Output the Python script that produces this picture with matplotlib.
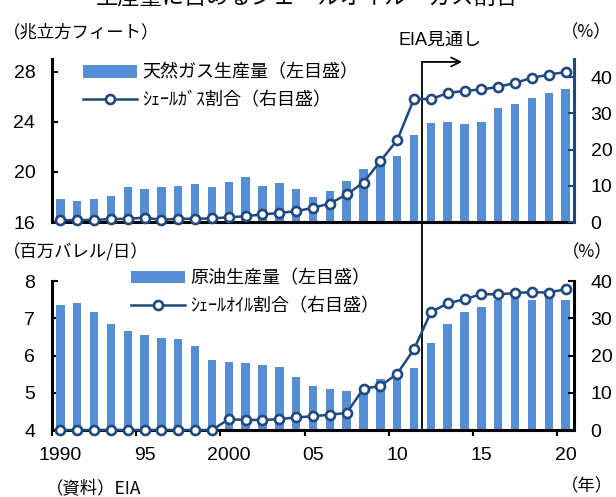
import matplotlib
matplotlib.use("Agg")
import matplotlib.pyplot as plt
from matplotlib import font_manager

years = list(range(1990, 2021))
year_labels = ["1990", "95", "2000", "05", "10", "15", "20"]

# natural gas production (tcf) and shale gas share (%)
gas_prod = [17.8, 17.7, 17.8, 18.1, 18.8, 18.6, 18.8, 18.9, 19.0, 18.8,
            19.2, 19.6, 18.9, 19.1, 18.6, 18.0, 18.5, 19.3, 20.2, 20.6,
            21.3, 22.9, 23.9, 24.0, 23.8, 24.0, 25.1, 25.4, 25.9, 26.3, 26.6]
gas_share = [0.5, 0.5, 0.6, 0.8, 0.9, 1.2, 0.6, 0.9, 0.9, 1.0,
             1.3, 1.6, 2.1, 2.5, 3.0, 3.9, 5.1, 7.6, 10.9, 16.8,
             22.6, 34.0, 33.9, 35.6, 36.2, 36.6, 37.3, 38.4, 39.8, 40.7, 41.4]

# crude oil production (mb/d) and shale oil share (%)
oil_prod = [7.36, 7.42, 7.17, 6.85, 6.66, 6.56, 6.46, 6.45, 6.25, 5.88,
            5.82, 5.80, 5.74, 5.68, 5.42, 5.18, 5.10, 5.06, 5.00, 5.36,
            5.48, 5.67, 6.34, 6.84, 7.18, 7.29, 7.50, 7.54, 7.50, 7.57, 7.49]
oil_share = [0.0, 0.0, 0.0, 0.0, 0.0, 0.0, 0.0, 0.0, 0.0, 0.0,
             2.9, 2.7, 2.7, 2.9, 3.4, 3.7, 4.1, 4.6, 11.1, 11.8,
             15.1, 21.7, 31.6, 34.0, 35.1, 36.5, 36.4, 36.8, 37.0, 36.9, 37.8]

forecast_start = 2012

BAR = "#558ED5"
LINE = "#1F497D"

installed = {f.name for f in font_manager.fontManager.ttflist}
num_font = "Liberation Sans Narrow" if "Liberation Sans Narrow" in installed else "Liberation Sans"
JP = ["Noto Sans CJK JP", "DejaVu Sans"]
NUM = [num_font, "Noto Sans CJK JP"]

x = list(range(len(years)))

fig = plt.figure(figsize=(6.16, 4.97), dpi=100)
ax1 = fig.add_axes([0.0844, 0.5533, 0.8474, 0.3280])
ax2 = ax1.twinx()
ax3 = fig.add_axes([0.0844, 0.1348, 0.8474, 0.2998])
ax4 = ax3.twinx()


def style_pair(ax, axr, right_color):
    for a in (ax, axr):
        a.set_xlim(-0.5, len(years) - 0.5)
        a.spines["top"].set_visible(False)
    ax.spines["right"].set_visible(False)
    axr.spines["left"].set_visible(False)
    axr.spines["bottom"].set_visible(False)
    ax.spines["left"].set_linewidth(2.2)
    ax.spines["bottom"].set_linewidth(2.2)
    axr.spines["right"].set_linewidth(2.2)
    axr.spines["right"].set_color(right_color)
    ax.tick_params(axis="y", direction="in", length=4, width=1.5, pad=12)
    axr.tick_params(axis="y", direction="in", length=4, width=1.5, pad=12,
                    color=right_color)
    for lab in ax.get_yticklabels() + axr.get_yticklabels():
        lab.set_family(NUM)
        lab.set_fontsize(14)


# upper panel: natural gas
ax1.bar(x, gas_prod, width=0.5, color=BAR, zorder=2)
ax1.set_ylim(16, 29)
ax1.set_yticks([16, 20, 24, 28])
ax2.plot(x, gas_share, color=LINE, lw=1.8, marker="o", ms=6.5, mew=1.9,
         mfc="white", mec=LINE, clip_on=False, zorder=5)
ax2.set_ylim(0, 45)
ax2.set_yticks([0, 10, 20, 30, 40])
style_pair(ax1, ax2, LINE)
ax1.set_xticks([])

# lower panel: crude oil
ax3.bar(x, oil_prod, width=0.5, color=BAR, zorder=2)
ax3.set_ylim(4, 8)
ax3.set_yticks([4, 5, 6, 7, 8])
ax4.plot(x, oil_share, color=LINE, lw=1.8, marker="o", ms=6.5, mew=1.9,
         mfc="white", mec=LINE, clip_on=False, zorder=5)
ax4.set_ylim(0, 40)
ax4.set_yticks([0, 10, 20, 30, 40])
style_pair(ax3, ax4, "black")
ax3.set_xticks(x[::5])
ax3.set_xticklabels(year_labels, family=NUM, fontsize=14)
ax3.set_xticks([i - 0.5 for i in x[::5]], minor=True)
ax3.tick_params(axis="x", which="major", length=0, pad=12)
ax3.tick_params(axis="x", which="minor", direction="out", length=4, width=1.5)

# forecast divider with arrow
fx = years.index(forecast_start) - 0.5
ax2.axvline(fx, ymin=0.0, ymax=0.982, color="black", lw=1.3, zorder=4)
ax4.axvline(fx, ymin=0.013, ymax=1.396, color="black", lw=1.3, clip_on=False, zorder=4)
ax2.annotate("", xy=(fx + 2.35, 0.982), xytext=(fx, 0.982),
             xycoords=("data", "axes fraction"), textcoords=("data", "axes fraction"),
             arrowprops=dict(arrowstyle="->", lw=1.3, color="black",
                             mutation_scale=16, shrinkA=0, shrinkB=0))
ax2.text(fx + 1.05, 1.117, "EIA見通し", transform=ax2.get_xaxis_transform(),
         ha="center", va="center", fontsize=13, family=NUM)

# legends
h1 = ax1.patches[0]
l1 = ax2.lines[0]
ax2.legend([h1, l1], ["天然ガス生産量（左目盛）", "ｼｪｰﾙｶﾞｽ割合（右目盛）"],
           loc="upper left", bbox_to_anchor=(0.1347, 0.872),
           bbox_transform=fig.transFigure, frameon=False, borderpad=0,
           borderaxespad=0, handlelength=3.0, handletextpad=0.3,
           labelspacing=0.55, prop={"family": JP, "size": 13})
h3 = ax3.patches[0]
l3 = ax4.lines[0]
ax4.legend([h3, l3], ["原油生産量（左目盛）", "ｼｪｰﾙｵｲﾙ割合（右目盛）"],
           loc="upper left", bbox_to_anchor=(0.2127, 0.458),
           bbox_transform=fig.transFigure, frameon=False, borderpad=0,
           borderaxespad=0, handlelength=3.0, handletextpad=0.3,
           labelspacing=0.55, prop={"family": JP, "size": 13})

# titles and unit labels
fig.text(0.498, 1.004, "生産量に占めるシェールオイル・ガス割合", ha="center",
         va="center", fontsize=16, family=JP)
fig.text(0.005, 0.934, "（兆立方フィート）", ha="left", va="center", fontsize=12.5, family=JP)
fig.text(0.993, 0.934, "（%）", ha="right", va="center", fontsize=12.5, family=JP)
fig.text(0.005, 0.493, "（百万バレル/日）", ha="left", va="center", fontsize=12.5, family=JP)
fig.text(0.995, 0.493, "（%）", ha="right", va="center", fontsize=12.5, family=JP)
fig.text(0.995, 0.022, "（年）", ha="right", va="center", fontsize=12.5, family=JP)
fig.text(0.075, 0.017, "（資料）EIA", ha="left", va="center", fontsize=12.5, family=JP)

fig.savefig("out.png", dpi=100)
